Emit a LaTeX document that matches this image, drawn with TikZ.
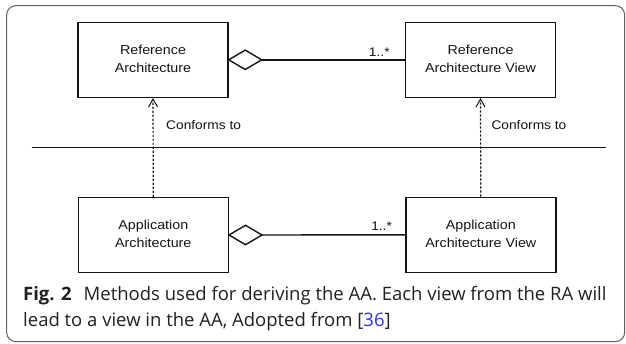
\documentclass[tikz,border=0pt]{standalone}
\usepackage{fontspec}
\setmainfont{Liberation Sans}
\newfontfamily\capfont{Open Sans}
\usetikzlibrary{arrows.meta}
\definecolor{linegray}{RGB}{20,20,20}
\definecolor{framegray}{RGB}{95,95,95}
\definecolor{captext}{RGB}{35,31,32}
\definecolor{refblue}{RGB}{45,50,235}
\newcommand{\boxtext}[2]{\raisebox{-2pt}{\scalebox{1.1}[1]{\begin{tabular}{@{}c@{}}#1\\#2\end{tabular}}}}
\newcommand{\lbltext}[1]{\scalebox{1.1}[1]{#1}}
\tikzset{
  umlbox/.style={draw=linegray, line width=1.4pt, minimum width=150pt, minimum height=75pt,
    font=\fontsize{13}{18}\selectfont, inner sep=0pt, text=linegray},
  conforms/.style={draw=linegray, line width=1.2pt, dash pattern=on 2.2pt off 1.8pt,
    -{Straight Barb[length=8pt,width=9pt,line width=1pt]}},
  assoc/.style={draw=linegray, line width=1.4pt, line join=miter},
  lbl/.style={font=\fontsize{12.5}{14}\selectfont, inner sep=0pt, text=linegray},
  caption/.style={font=\capfont\fontsize{18.5}{22}\selectfont, inner sep=0pt, anchor=base west, text=captext}
}
\begin{document}
\begin{tikzpicture}[x=1pt,y=-1pt]
\useasboundingbox (0,0) rectangle (626,343);
% frame
\draw[framegray, line width=1pt, rounded corners=9pt] (6.7,5.7) rectangle (624.6,341.6);
% boxes
\node[umlbox] (ra) at (153,59.8) {\boxtext{Reference}{Architecture}};
\node[umlbox] (rav) at (480.5,59.8) {\boxtext{Reference}{Architecture View}};
\node[umlbox] (aa) at (153.3,235) {\boxtext{Application}{Architecture}};
\node[umlbox] (aav) at (480.8,234.8) {\boxtext{Application}{Architecture View}};
% aggregation top
\coordinate (d1) at ([xshift=33pt]ra.east);
\draw[assoc] (ra.east) -- ++(16.5,-9.7) -- (d1) -- ++(-16.5,9.7) -- cycle;
\draw[assoc] (d1) -- (rav.west);
\node[lbl, anchor=base east] (m1) at ([xshift=-15pt,yshift=3.5pt]rav.west) {\lbltext{1..*}};
% aggregation bottom
\coordinate (d2) at ([xshift=33pt]aa.east);
\draw[assoc] (aa.east) -- ++(16.5,-9.7) -- (d2) -- ++(-16.5,9.7) -- cycle;
\draw[assoc] (d2) -- (aav.west);
\node[lbl, anchor=base east] (m2) at ([xshift=-13pt,yshift=4.5pt]aav.west) {\lbltext{1..*}};
% separator
\coordinate (s1) at (31.7,147.3);
\coordinate (s2) at (606.3,147.3);
\draw[assoc] (s1) -- (s2);
% conforms
\draw[conforms] (aa.north) -- (ra.south);
\draw[conforms] (aav.north) -- (rav.south);
\node[lbl, anchor=west] (c1) at (166,125) {\lbltext{Conforms to}};
\node[lbl, anchor=west] (c2) at (491.3,125) {\lbltext{Conforms to}};
% caption
\node[caption] (cap1) at (23,300.7) {\textbf{Fig. 2}\hspace{0.65em}Methods used for deriving the AA. Each view from the RA will};
\node[caption] (cap2) at (23,326.7) {lead to a view in the AA, Adopted from [\textcolor{refblue}{36}]};
\end{tikzpicture}
\end{document}
